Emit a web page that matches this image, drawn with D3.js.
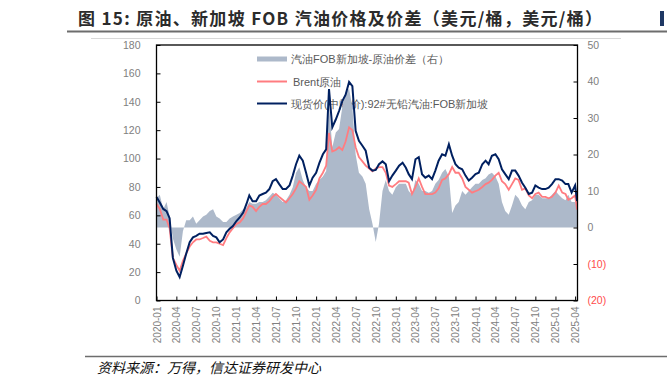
<!DOCTYPE html>
<html>
<head>
<meta charset="utf-8">
<script src="https://cdn.jsdelivr.net/npm/d3@7"></script>
<style>
body { margin: 0; background: #fff; }
svg text { font-family: "Liberation Sans", Arial, sans-serif; }
</style>
</head>
<body>
<svg id="chart" width="667" height="388"></svg>
<script>
// months covered, two readings per month (1st and 16th; last one on the 10th)
var months = ["2020-01","2020-02","2020-03","2020-04","2020-05","2020-06","2020-07","2020-08","2020-09","2020-10","2020-11","2020-12",
  "2021-01","2021-02","2021-03","2021-04","2021-05","2021-06","2021-07","2021-08","2021-09","2021-10","2021-11","2021-12",
  "2022-01","2022-02","2022-03","2022-04","2022-05","2022-06","2022-07","2022-08","2022-09","2022-10","2022-11","2022-12",
  "2023-01","2023-02","2023-03","2023-04","2023-05","2023-06","2023-07","2023-08","2023-09","2023-10","2023-11","2023-12",
  "2024-01","2024-02","2024-03","2024-04","2024-05","2024-06","2024-07","2024-08","2024-09","2024-10","2024-11","2024-12",
  "2025-01","2025-02","2025-03","2025-04"];

// 现货价(中间价):92#无铅汽油:FOB新加坡
var gasoline = [73,69, 64.5,63, 58,30, 21,16.5, 24.5,33, 41,44.5, 45.5,47, 47,47.5, 48,45.5, 44.5,41, 43,48, 50.5,52.5,
  56,58.5, 62,68, 74,70, 70,74, 75,76, 78.5,84, 85.5,82, 78.5,78.5, 81,88, 96,102, 98.5,90, 81,86.5,
  90,97, 103,106.5, 149,122, 127.5,133.5, 140.5,145, 154,151, 119.5,112.5, 109,105.5, 93.5,91.5, 92,96, 98,96, 84,88,
  91.5,95, 97,93.5, 89,85.5, 99.5,101, 89,86.5, 88,85.5, 91.5,98.5, 103,102, 110,102, 96,93.5, 92.5,88, 84.5,86.5,
  89,90, 96,98.5, 96,102, 103,99.5, 92.5,89, 85.5,91.5, 91.5,88, 83,79.5, 75,76, 81,79.5, 78.5,78.5, 79.5,82,
  85.5,85.5, 84.5,82, 82,76, 81,70];

// Brent原油
var brent = [68,64.5, 57,57, 51,30, 25,21, 28,33, 38,41, 43,43, 44,45, 42,41, 41,40, 39,44, 48,51,
  54,55, 58,63, 67,66, 63,66, 68,68, 70,73, 75,73, 71,69, 72,75, 79,84, 82,80, 71,74,
  78,86, 90,95, 118,105, 106,108, 106,112, 122,120, 108,101, 98,95, 93,91, 93,94, 94,90, 81,80,
  82,84, 84,84, 83,75, 80,86, 80,75, 75,75, 76,79, 85,86, 89,94, 90,90, 86,80, 78,76,
  77,78, 80,82, 83,85, 88,90, 84,82, 78,82, 86,85, 78,79, 74,72, 75,76, 73,73, 72,73,
  76,81, 76,75, 71,72, 74,64];

// 汽油FOB新加坡-原油价差（右）
var spread = [8,9, 5,7, 3,-3, -6,-8, -1,2, 2,3, 1,2, 3,3.5, 4.5,5, 3,2.5, 1.5,1.5, 2.5,3,
  3.5,4, 5,5.5, 7,6.5, 6.5,7, 7,7.5, 8.5,9.5, 9,8, 7,7.5, 9,11, 15,16.5, 13,11, 10,10,
  12,13, 14,15.5, 34,22, 26,27, 33,37, 38,33, 20,15, 14,12, 5,1, -4,1, 10,13, 10,9,
  11,12, 12,12, 10,9, 13,12, 10,10, 9.5,10, 12,13, 15,16, 14,4, 6,7, 10,9, 10,11,
  12,12, 13,13.5, 14.5,15, 14,12, 7,4.5, 3.5,6, 9,8, 6,5, 7,7.5, 9,9, 8,8, 8,9,
  10,9, 8,7.5, 9,7, 7,6];

var quarterTicks = ["2020-01","2020-04","2020-07","2020-10","2021-01","2021-04","2021-07","2021-10",
  "2022-01","2022-04","2022-07","2022-10","2023-01","2023-04","2023-07","2023-10",
  "2024-01","2024-04","2024-07","2024-10","2025-01","2025-04"];
var leftTicks = [0, 20, 40, 60, 80, 100, 120, 140, 160, 180];
var rightTicks = [-20, -10, 0, 10, 20, 30, 40, 50];

var parseDay = d3.timeParse("%Y-%m-%d");
var parseMonth = d3.timeParse("%Y-%m");

var dates = [];
months.forEach(function(m, i) {
  dates.push(parseDay(m + "-01"));
  dates.push(parseDay(m + (i == months.length - 1 ? "-10" : "-16")));
});

var rows = dates.map(function(d, i) {
  return {date: d, gas: gasoline[i], brent: brent[i], spread: spread[i]};
});

var svg = d3.select("#chart");

var pLeft = 156.5, pRight = 577.5, pTop = 45, pBottom = 300.5;

var x = d3.scaleTime().domain([parseDay("2020-01-01"), parseDay("2025-04-12")]).range([pLeft, pRight]),
    yL = d3.scaleLinear().domain([0, 180]).range([pBottom, pTop]),
    yR = d3.scaleLinear().domain([-20, 50]).range([pBottom, pTop]);

// title and rules
svg.append("text")
  .attr("x", 78).attr("y", 25)
  .attr("textLength", 524).attr("lengthAdjust", "spacing")
  .style("font-family", "'Noto Sans CJK SC', sans-serif")
  .style("font-size", "17px").style("font-weight", "bold")
  .attr("fill", "#2b2b2b")
  .text("图 15: 原油、新加坡 FOB 汽油价格及价差（美元/桶，美元/桶）");
svg.append("rect").attr("x", 660).attr("y", 11).attr("width", 4).attr("height", 15).attr("fill", "#1f3864");
svg.append("line").attr("x1", 67).attr("x2", 667).attr("y1", 31.5).attr("y2", 31.5)
  .attr("stroke", "#6d6d6d").attr("stroke-width", 2);
svg.append("line").attr("x1", 91).attr("x2", 621).attr("y1", 38.5).attr("y2", 38.5)
  .attr("stroke", "#d9d9d9").attr("stroke-width", 1);

// legend (drawn first, the lines run over it)
var legend = svg.append("g").style("font-family", "'Noto Sans CJK SC', sans-serif").style("font-size", "11px");
legend.append("rect").attr("x", 257).attr("y", 56.5).attr("width", 30).attr("height", 5).attr("fill", "#adb9ca");
legend.append("text").attr("x", 291).attr("y", 63).attr("fill", "#595959").text("汽油FOB新加坡-原油价差（右）");
legend.append("line").attr("x1", 257).attr("x2", 287).attr("y1", 81.5).attr("y2", 81.5)
  .attr("stroke", "#ff7c80").attr("stroke-width", 2);
legend.append("text").attr("x", 293).attr("y", 85.5).attr("fill", "#595959").text("Brent原油");
legend.append("line").attr("x1", 257).attr("x2", 287).attr("y1", 103.5).attr("y2", 103.5)
  .attr("stroke", "#002060").attr("stroke-width", 2);
legend.append("text").attr("x", 291).attr("y", 107.5).attr("fill", "#595959").text("现货价(中间价):92#无铅汽油:FOB新加坡");

// spread area on the right axis
var area = d3.area()
  .x(function(d) { return x(d.date); })
  .y0(yR(0))
  .y1(function(d) { return yR(d.spread); });

svg.append("path").datum(rows)
  .attr("d", area)
  .attr("fill", "#adb9ca");

var brentLine = d3.line()
  .x(function(d) { return x(d.date); })
  .y(function(d) { return yL(d.brent); });

var gasLine = d3.line()
  .x(function(d) { return x(d.date); })
  .y(function(d) { return yL(d.gas); });

svg.append("path").datum(rows)
  .attr("d", brentLine)
  .attr("fill", "none").attr("stroke", "#ff7c80").attr("stroke-width", 1.8);

svg.append("path").datum(rows)
  .attr("d", gasLine)
  .attr("fill", "none").attr("stroke", "#002060").attr("stroke-width", 2);

// axes, ticks point inwards
var gl = svg.append("g").attr("transform", "translate(" + pLeft + ",0)")
  .call(d3.axisLeft(yL).tickValues(leftTicks).tickSize(-4).tickPadding(16));
var gr = svg.append("g").attr("transform", "translate(" + pRight + ",0)")
  .call(d3.axisRight(yR).tickValues(rightTicks).tickSize(-4).tickPadding(10)
    .tickFormat(function(v) { return v < 0 ? "(" + (-v) + ")" : v; }));
var gb = svg.append("g").attr("transform", "translate(0," + pBottom + ")")
  .call(d3.axisBottom(x).tickValues(quarterTicks.map(function(q) { return parseMonth(q); }))
    .tickSize(-4).tickFormat(d3.timeFormat("%Y-%m")));

[gl, gr, gb].forEach(function(g) {
  g.select(".domain").remove();
  g.selectAll(".tick line").attr("stroke", "#000");
  g.selectAll(".tick text").style("font-size", "10.5px").attr("fill", "#808080");
});
gr.selectAll(".tick text").attr("fill", function(v) { return v < 0 ? "#ff4b4b" : "#808080"; });
gb.selectAll(".tick text")
  .attr("transform", "rotate(-90)")
  .attr("text-anchor", "end")
  .attr("x", -6).attr("y", 0).attr("dy", "0.35em")
  .style("font-size", "10px");

// plot frame
svg.append("rect")
  .attr("x", pLeft).attr("y", pTop).attr("width", pRight - pLeft).attr("height", pBottom - pTop)
  .attr("fill", "none").attr("stroke", "#000").attr("stroke-width", 1.3);

// source note
svg.append("line").attr("x1", 85).attr("x2", 667).attr("y1", 356.5).attr("y2", 356.5)
  .attr("stroke", "#6d6d6d").attr("stroke-width", 1.5);
svg.append("text")
  .attr("x", 97).attr("y", 373)
  .style("font-family", "'Noto Sans CJK SC', sans-serif")
  .style("font-size", "14px").style("font-style", "italic")
  .attr("fill", "#111")
  .text("资料来源：万得，信达证券研发中心");
</script>
</body>
</html>
